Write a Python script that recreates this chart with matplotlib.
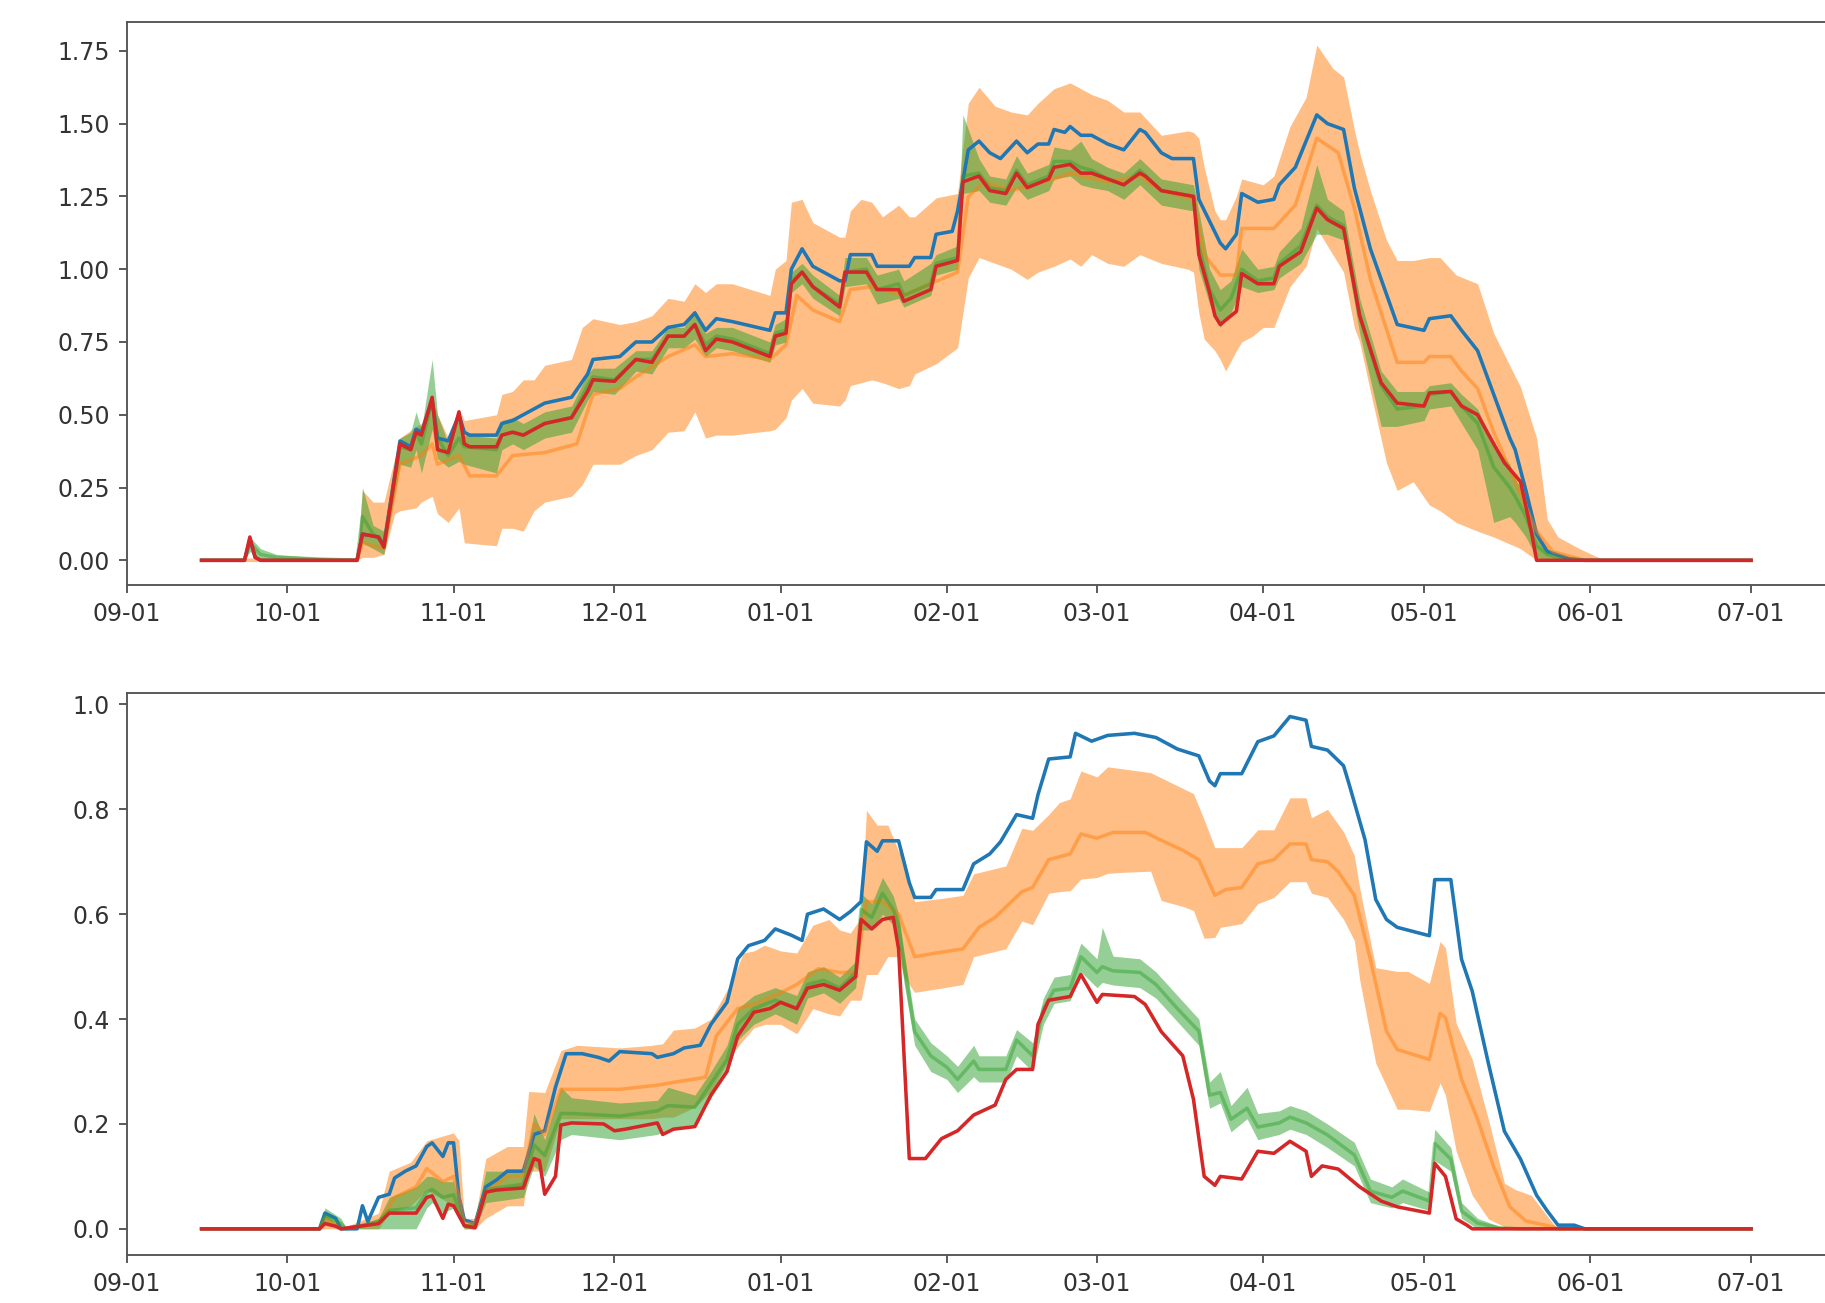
import numpy as np
import matplotlib
matplotlib.use('Agg')
import matplotlib.pyplot as plt
import matplotlib.dates as mdates

# day offsets counted from 2018-09-01
START = np.datetime64('2018-09-01')

# ---------- upper panel ----------
top_blue = [(14, 0), (22, 0), (23, 0.07), (24, 0.01), (25, 0), (43, 0), (44, 0.09), (47, 0.08), (48, 0.05),
            (51, 0.41), (53, 0.39), (54, 0.45), (55, 0.44), (57, 0.55), (58, 0.42), (60, 0.41), (62, 0.50),
            (63, 0.44), (64, 0.43), (69, 0.43), (70, 0.47), (72, 0.48), (74, 0.50), (78, 0.54), (83, 0.56),
            (86, 0.64), (87, 0.69), (92, 0.70), (95, 0.75), (98, 0.75), (101, 0.80), (104, 0.81), (106, 0.85),
            (108, 0.79), (110, 0.83), (113, 0.82), (120, 0.79), (121, 0.85), (123, 0.85), (124, 1.00),
            (126, 1.07), (128, 1.01), (133, 0.96), (134, 0.96), (135, 1.05), (139, 1.05), (140, 1.01),
            (146, 1.01), (147, 1.04), (150, 1.04), (151, 1.12), (154, 1.13), (155, 1.20), (157, 1.41),
            (159, 1.44), (161, 1.40), (163, 1.38), (166, 1.44), (168, 1.40), (170, 1.43), (172, 1.43),
            (173, 1.48), (175, 1.47), (176, 1.49), (178, 1.46), (180, 1.46), (183, 1.43), (186, 1.41),
            (189, 1.48), (190, 1.47), (193, 1.40), (195, 1.38), (199, 1.38), (200, 1.24), (204, 1.09),
            (205, 1.07), (207, 1.12), (208, 1.26), (211, 1.23), (214, 1.24), (215, 1.29), (218, 1.35),
            (222, 1.53), (224, 1.50), (227, 1.48), (229, 1.28), (232, 1.07), (237, 0.81), (242, 0.79),
            (243, 0.83), (247, 0.84), (249, 0.79), (252, 0.72), (255, 0.57), (258, 0.42), (259, 0.38),
            (261, 0.24), (263, 0.09), (265, 0.03), (269, 0.006), (272, 0), (303, 0)]

top_red = [(14, 0), (22, 0), (23, 0.08), (24, 0.01), (25, 0), (43, 0), (44, 0.09), (47, 0.08), (48, 0.045),
           (51, 0.40), (53, 0.38), (54, 0.44), (55, 0.43), (57, 0.56), (58, 0.38), (60, 0.37), (62, 0.51),
           (63, 0.40), (64, 0.39), (69, 0.39), (70, 0.43), (72, 0.44), (74, 0.43), (78, 0.47), (83, 0.49),
           (86, 0.58), (87, 0.62), (91, 0.615), (95, 0.69), (98, 0.68), (101, 0.77), (104, 0.77), (106, 0.81),
           (108, 0.72), (110, 0.76), (113, 0.75), (120, 0.70), (121, 0.77), (123, 0.78), (124, 0.95),
           (126, 0.99), (128, 0.94), (133, 0.87), (134, 0.99), (138, 0.99), (140, 0.93), (144, 0.93),
           (145, 0.89), (150, 0.93), (151, 1.01), (155, 1.03), (156, 1.30), (159, 1.32), (161, 1.27),
           (164, 1.26), (166, 1.33), (168, 1.28), (172, 1.31), (173, 1.35), (176, 1.36), (178, 1.33),
           (180, 1.33), (183, 1.31), (186, 1.29), (189, 1.33), (190, 1.32), (193, 1.27), (199, 1.25),
           (200, 1.05), (202, 0.92), (203, 0.84), (204, 0.81), (207, 0.855), (208, 0.985), (211, 0.95),
           (214, 0.95), (215, 1.01), (219, 1.06), (222, 1.21), (224, 1.17), (227, 1.14), (230, 0.84),
           (234, 0.61), (237, 0.54), (242, 0.53), (243, 0.575), (247, 0.58), (249, 0.53), (252, 0.50),
           (255, 0.40), (257, 0.335), (260, 0.27), (262, 0.10), (263, 0), (303, 0)]

top_orange = [(14, 0), (43, 0), (44, 0.06), (48, 0.04), (51, 0.33), (55, 0.36), (57, 0.40), (58, 0.33),
              (62, 0.36), (64, 0.29), (69, 0.29), (72, 0.36), (78, 0.37), (84, 0.40), (87, 0.57), (92, 0.59),
              (95, 0.63), (101, 0.70), (106, 0.74), (108, 0.70), (113, 0.71), (120, 0.69), (123, 0.74),
              (125, 0.91), (128, 0.86), (133, 0.82), (135, 0.93), (139, 0.94), (145, 0.91), (150, 0.95),
              (155, 0.99), (157, 1.25), (160, 1.30), (165, 1.27), (173, 1.31), (176, 1.33), (183, 1.30),
              (189, 1.32), (193, 1.27), (199, 1.24), (201, 1.05), (204, 0.98), (207, 0.98), (208, 1.14),
              (214, 1.14), (218, 1.22), (222, 1.45), (226, 1.40), (229, 1.21), (232, 0.965), (237, 0.68),
              (242, 0.68), (243, 0.70), (247, 0.70), (249, 0.65), (252, 0.59), (255, 0.44), (259, 0.27),
              (263, 0.10), (266, 0.03), (272, 0), (303, 0)]

# (day, lower, upper)
top_orange_band = [(14, 0, 0), (43, 0, 0), (44, 0.01, 0.24), (46, 0.01, 0.20), (48, 0.02, 0.20),
                   (50, 0.16, 0.35), (51, 0.17, 0.42), (54, 0.18, 0.46), (55, 0.20, 0.47), (57, 0.22, 0.56),
                   (58, 0.16, 0.50), (60, 0.13, 0.42), (62, 0.18, 0.52), (63, 0.06, 0.48), (69, 0.05, 0.50),
                   (70, 0.11, 0.57), (72, 0.11, 0.58), (74, 0.10, 0.62), (76, 0.17, 0.62), (78, 0.20, 0.67),
                   (83, 0.22, 0.69), (85, 0.26, 0.80), (87, 0.33, 0.83), (92, 0.33, 0.81), (95, 0.36, 0.82),
                   (98, 0.38, 0.84), (101, 0.44, 0.90), (104, 0.445, 0.89), (106, 0.51, 0.95),
                   (108, 0.42, 0.92), (110, 0.43, 0.95), (113, 0.43, 0.95), (120, 0.445, 0.91),
                   (121, 0.45, 1.00), (123, 0.49, 1.03), (124, 0.55, 1.23), (126, 0.59, 1.24),
                   (128, 0.54, 1.16), (133, 0.53, 1.11), (134, 0.55, 1.11), (135, 0.60, 1.20),
                   (137, 0.61, 1.24), (139, 0.62, 1.23), (141, 0.61, 1.18), (144, 0.59, 1.22),
                   (146, 0.60, 1.18), (147, 0.64, 1.18), (151, 0.675, 1.245), (155, 0.73, 1.26),
                   (157, 0.97, 1.57), (159, 1.04, 1.625), (162, 1.02, 1.56), (165, 1.00, 1.54),
                   (168, 0.965, 1.53), (170, 0.99, 1.57), (173, 1.01, 1.62), (176, 1.035, 1.64),
                   (178, 1.01, 1.62), (180, 1.05, 1.60), (183, 1.02, 1.58), (186, 1.01, 1.54),
                   (189, 1.05, 1.54), (193, 1.02, 1.46), (198, 1.00, 1.475), (199, 0.99, 1.47),
                   (200, 0.85, 1.45), (201, 0.76, 1.35), (203, 0.72, 1.20), (204, 0.69, 1.17),
                   (205, 0.65, 1.17), (207, 0.72, 1.25), (208, 0.75, 1.31), (210, 0.77, 1.30),
                   (212, 0.80, 1.29), (214, 0.80, 1.32), (217, 0.94, 1.49), (220, 1.01, 1.59),
                   (222, 1.14, 1.77), (225, 1.05, 1.69), (227, 0.99, 1.66), (229, 0.80, 1.48),
                   (230, 0.75, 1.40), (232, 0.58, 1.27), (235, 0.335, 1.10), (237, 0.24, 1.03),
                   (240, 0.27, 1.03), (243, 0.19, 1.04), (245, 0.17, 1.04), (248, 0.13, 0.98),
                   (252, 0.10, 0.95), (255, 0.08, 0.78), (260, 0.04, 0.595), (263, 0, 0.42),
                   (265, 0, 0.14), (267, 0, 0.08), (271, 0, 0.04), (275, 0, 0.006), (276, 0, 0), (303, 0, 0)]

# (day, lower, mean, upper)
top_green = [(14, 0, 0, 0), (22, 0, 0, 0), (23, 0.03, 0.06, 0.08), (25, 0, 0.02, 0.04), (28, 0, 0.01, 0.02),
             (43, 0, 0, 0), (44, 0.06, 0.15, 0.25), (46, 0.04, 0.09, 0.12), (48, 0.02, 0.06, 0.10),
             (51, 0.33, 0.39, 0.42), (53, 0.32, 0.38, 0.44), (54, 0.38, 0.44, 0.51), (55, 0.30, 0.40, 0.45),
             (57, 0.45, 0.55, 0.69), (58, 0.35, 0.42, 0.50), (60, 0.32, 0.36, 0.40), (62, 0.34, 0.42, 0.50),
             (63, 0.33, 0.39, 0.43), (69, 0.30, 0.38, 0.42), (70, 0.38, 0.43, 0.48), (72, 0.40, 0.44, 0.49),
             (74, 0.38, 0.43, 0.47), (78, 0.42, 0.47, 0.51), (83, 0.44, 0.49, 0.53), (86, 0.55, 0.60, 0.64),
             (87, 0.58, 0.63, 0.66), (91, 0.57, 0.62, 0.66), (95, 0.65, 0.69, 0.72), (98, 0.64, 0.69, 0.72),
             (101, 0.73, 0.77, 0.80), (104, 0.73, 0.77, 0.80), (106, 0.76, 0.81, 0.86),
             (108, 0.70, 0.74, 0.78), (110, 0.73, 0.77, 0.80), (113, 0.72, 0.76, 0.80),
             (120, 0.68, 0.71, 0.75), (121, 0.74, 0.78, 0.81), (123, 0.75, 0.79, 0.83),
             (124, 0.92, 0.96, 0.99), (126, 0.95, 0.99, 1.02), (128, 0.90, 0.94, 0.98),
             (133, 0.84, 0.88, 0.91), (134, 0.94, 0.99, 1.04), (138, 0.95, 1.00, 1.04),
             (140, 0.88, 0.93, 0.98), (144, 0.90, 0.95, 1.00), (145, 0.87, 0.91, 0.96),
             (150, 0.91, 0.95, 1.02), (151, 0.98, 1.02, 1.05), (155, 1.00, 1.04, 1.08),
             (156, 1.26, 1.32, 1.53), (159, 1.27, 1.33, 1.38), (161, 1.23, 1.28, 1.32),
             (164, 1.22, 1.27, 1.31), (166, 1.28, 1.34, 1.39), (168, 1.24, 1.29, 1.33),
             (172, 1.27, 1.32, 1.36), (173, 1.31, 1.37, 1.42), (176, 1.32, 1.37, 1.41),
             (178, 1.29, 1.35, 1.44), (180, 1.28, 1.34, 1.38), (183, 1.27, 1.31, 1.35),
             (186, 1.24, 1.29, 1.33), (189, 1.29, 1.34, 1.38), (193, 1.22, 1.27, 1.31),
             (199, 1.20, 1.25, 1.29), (200, 1.00, 1.08, 1.20), (202, 0.88, 0.93, 1.00),
             (204, 0.80, 0.86, 0.93), (206, 0.85, 0.90, 0.96), (208, 0.94, 1.00, 1.07),
             (211, 0.92, 0.96, 1.00), (214, 0.93, 0.97, 1.01), (215, 0.97, 1.02, 1.06),
             (219, 1.02, 1.08, 1.14), (222, 1.12, 1.22, 1.36), (224, 1.12, 1.18, 1.24),
             (227, 1.10, 1.15, 1.20), (230, 0.78, 0.84, 0.90), (234, 0.46, 0.60, 0.65),
             (237, 0.46, 0.52, 0.58), (242, 0.48, 0.53, 0.58), (243, 0.52, 0.57, 0.60),
             (247, 0.53, 0.58, 0.61), (249, 0.47, 0.53, 0.57), (252, 0.38, 0.47, 0.52),
             (255, 0.13, 0.32, 0.40), (258, 0.15, 0.25, 0.33), (259, 0.13, 0.22, 0.28),
             (261, 0.08, 0.15, 0.22), (263, 0.01, 0.05, 0.10), (265, 0, 0.02, 0.04),
             (268, 0, 0.005, 0.01), (272, 0, 0, 0), (303, 0, 0, 0)]

# ---------- lower panel ----------
bot_blue = [(14, 0), (36, 0), (37, 0.03), (39, 0.02), (40, 0), (43, 0), (44, 0.044), (45, 0.014), (47, 0.06),
            (49, 0.066), (50, 0.097), (52, 0.11), (54, 0.12), (56, 0.157), (57, 0.164), (59, 0.138),
            (60, 0.164), (61, 0.164), (62, 0.06), (63, 0.017), (65, 0.01), (67, 0.08), (69, 0.093),
            (71, 0.11), (74, 0.11), (76, 0.18), (78, 0.187), (80, 0.27), (82, 0.334), (85, 0.334),
            (88, 0.327), (90, 0.32), (92, 0.338), (98, 0.334), (99, 0.327), (102, 0.334), (104, 0.345),
            (107, 0.35), (109, 0.39), (112, 0.432), (114, 0.515), (116, 0.54), (119, 0.55), (121, 0.572),
            (124, 0.56), (126, 0.55), (127, 0.60), (130, 0.61), (133, 0.59), (135, 0.605), (137, 0.624),
            (138, 0.738), (140, 0.72), (141, 0.74), (144, 0.74), (146, 0.66), (147, 0.632), (150, 0.632),
            (151, 0.647), (156, 0.647), (158, 0.696), (161, 0.715), (163, 0.738), (166, 0.79), (169, 0.783),
            (170, 0.828), (172, 0.896), (176, 0.90), (177, 0.945), (180, 0.93), (183, 0.941), (188, 0.945),
            (192, 0.937), (196, 0.915), (200, 0.902), (202, 0.854), (203, 0.845), (204, 0.868), (208, 0.868),
            (211, 0.929), (214, 0.94), (217, 0.977), (220, 0.97), (221, 0.92), (224, 0.913), (227, 0.883),
            (228, 0.849), (231, 0.742), (233, 0.628), (235, 0.59), (237, 0.575), (243, 0.559), (244, 0.666),
            (247, 0.666), (249, 0.514), (251, 0.453), (254, 0.316), (257, 0.186), (260, 0.133),
            (263, 0.064), (265, 0.034), (267, 0.007), (270, 0.007), (272, 0), (303, 0)]

bot_red = [(14, 0), (36, 0), (37, 0.01), (39, 0.005), (40, 0), (47, 0.01), (49, 0.03), (54, 0.03), (56, 0.06),
           (57, 0.063), (59, 0.02), (60, 0.047), (61, 0.044), (63, 0.006), (65, 0.002), (67, 0.07),
           (69, 0.074), (74, 0.078), (76, 0.134), (77, 0.13), (78, 0.066), (80, 0.10), (81, 0.198),
           (83, 0.202), (89, 0.20), (91, 0.187), (93, 0.19), (99, 0.202), (100, 0.18), (102, 0.19),
           (106, 0.195), (109, 0.255), (112, 0.30), (114, 0.368), (117, 0.413), (120, 0.42), (122, 0.432),
           (125, 0.42), (127, 0.459), (130, 0.466), (133, 0.455), (136, 0.481), (137, 0.59), (139, 0.572),
           (141, 0.59), (143, 0.594), (144, 0.534), (146, 0.134), (149, 0.134), (152, 0.172), (155, 0.187),
           (158, 0.217), (162, 0.236), (164, 0.285), (166, 0.304), (169, 0.304), (170, 0.39), (172, 0.436),
           (176, 0.443), (178, 0.485), (181, 0.432), (182, 0.447), (188, 0.443), (190, 0.428), (193, 0.376),
           (197, 0.33), (199, 0.247), (201, 0.10), (203, 0.083), (204, 0.10), (208, 0.095), (211, 0.148),
           (214, 0.144), (217, 0.167), (220, 0.148), (221, 0.10), (223, 0.12), (226, 0.114), (230, 0.08),
           (234, 0.053), (237, 0.042), (243, 0.03), (244, 0.125), (246, 0.10), (248, 0.019), (250, 0.007),
           (251, 0), (303, 0)]

bot_orange = [(14, 0), (36, 0), (37, 0.02), (40, 0), (47, 0.01), (50, 0.06), (54, 0.08), (56, 0.115),
              (59, 0.09), (61, 0.10), (62, 0.06), (63, 0.01), (65, 0.01), (67, 0.07), (71, 0.10), (74, 0.10),
              (76, 0.20), (78, 0.18), (81, 0.266), (92, 0.266), (99, 0.274), (103, 0.281), (108, 0.289),
              (110, 0.368), (114, 0.42), (117, 0.428), (122, 0.45), (125, 0.466), (129, 0.496),
              (133, 0.489), (136, 0.489), (138, 0.624), (141, 0.624), (144, 0.60), (147, 0.519),
              (151, 0.526), (156, 0.534), (159, 0.575), (162, 0.594), (167, 0.643), (169, 0.651),
              (172, 0.704), (176, 0.715), (178, 0.753), (181, 0.745), (184, 0.756), (190, 0.756),
              (193, 0.741), (197, 0.722), (200, 0.704), (203, 0.636), (205, 0.647), (208, 0.651),
              (211, 0.696), (214, 0.704), (217, 0.734), (220, 0.734), (221, 0.704), (224, 0.70),
              (226, 0.681), (229, 0.636), (232, 0.514), (235, 0.377), (237, 0.342), (243, 0.323),
              (245, 0.411), (246, 0.403), (249, 0.285), (252, 0.209), (255, 0.118), (258, 0.042),
              (261, 0.015), (266, 0.004), (267, 0), (303, 0)]

bot_orange_band = [(14, 0, 0), (36, 0, 0), (37, 0, 0.03), (40, 0, 0), (47, 0, 0.03), (49, 0.03, 0.11),
                   (53, 0.044, 0.127), (56, 0.074, 0.168), (61, 0.044, 0.183), (62, 0.02, 0.168),
                   (63, 0, 0.02), (65, 0, 0.02), (67, 0.02, 0.134), (71, 0.044, 0.157), (74, 0.044, 0.157),
                   (75, 0.11, 0.262), (78, 0.11, 0.26), (81, 0.21, 0.34), (84, 0.21, 0.35), (92, 0.21, 0.345),
                   (98, 0.21, 0.35), (100, 0.213, 0.353), (102, 0.213, 0.379), (106, 0.232, 0.383),
                   (109, 0.262, 0.40), (113, 0.334, 0.474), (115, 0.36, 0.526), (117, 0.383, 0.53),
                   (119, 0.39, 0.541), (122, 0.39, 0.53), (125, 0.372, 0.526), (128, 0.42, 0.579),
                   (131, 0.41, 0.59), (133, 0.406, 0.57), (135, 0.436, 0.564), (137, 0.436, 0.594),
                   (138, 0.485, 0.798), (140, 0.485, 0.77), (142, 0.519, 0.77), (144, 0.519, 0.72),
                   (145, 0.48, 0.707), (147, 0.451, 0.624), (152, 0.459, 0.63), (156, 0.466, 0.636),
                   (158, 0.519, 0.677), (164, 0.534, 0.692), (167, 0.587, 0.764), (169, 0.58, 0.76),
                   (172, 0.64, 0.79), (174, 0.643, 0.813), (176, 0.645, 0.82), (178, 0.667, 0.873),
                   (181, 0.67, 0.862), (183, 0.678, 0.881), (186, 0.68, 0.877), (191, 0.682, 0.87),
                   (193, 0.626, 0.86), (197, 0.615, 0.84), (199, 0.607, 0.83), (201, 0.554, 0.78),
                   (203, 0.556, 0.727), (204, 0.575, 0.727), (208, 0.582, 0.727), (211, 0.62, 0.761),
                   (214, 0.632, 0.761), (217, 0.662, 0.822), (220, 0.662, 0.822), (221, 0.64, 0.784),
                   (224, 0.632, 0.80), (227, 0.59, 0.757), (229, 0.55, 0.712), (230, 0.475, 0.65),
                   (233, 0.316, 0.498), (237, 0.228, 0.491), (239, 0.228, 0.491), (243, 0.224, 0.468),
                   (245, 0.278, 0.548), (246, 0.255, 0.536), (248, 0.148, 0.392), (251, 0.064, 0.323),
                   (254, 0.019, 0.209), (257, 0.004, 0.087), (259, 0, 0.075), (262, 0, 0.064),
                   (266, 0, 0.011), (267, 0, 0), (303, 0, 0)]

bot_green = [(14, 0, 0, 0), (36, 0, 0, 0), (37, 0.01, 0.025, 0.04), (40, 0, 0.01, 0.02), (41, 0, 0, 0),
             (47, 0, 0.014, 0.02), (49, 0, 0.035, 0.06), (54, 0, 0.04, 0.08), (56, 0.04, 0.07, 0.10),
             (57, 0.05, 0.075, 0.10), (59, 0.03, 0.06, 0.09), (61, 0.04, 0.065, 0.09), (63, 0, 0.006, 0.01),
             (65, 0, 0.005, 0.01), (67, 0.05, 0.075, 0.11), (74, 0.06, 0.085, 0.11), (76, 0.12, 0.16, 0.22),
             (78, 0.10, 0.14, 0.17), (81, 0.17, 0.22, 0.27), (83, 0.18, 0.22, 0.25), (92, 0.17, 0.215, 0.24),
             (99, 0.18, 0.225, 0.245), (101, 0.19, 0.235, 0.27), (106, 0.20, 0.232, 0.255),
             (109, 0.25, 0.277, 0.30), (112, 0.30, 0.323, 0.35), (114, 0.36, 0.39, 0.42),
             (117, 0.39, 0.42, 0.445), (121, 0.41, 0.436, 0.46), (125, 0.39, 0.42, 0.445),
             (127, 0.44, 0.466, 0.49), (130, 0.45, 0.474, 0.50), (133, 0.43, 0.459, 0.48),
             (136, 0.46, 0.489, 0.51), (137, 0.57, 0.609, 0.64), (139, 0.57, 0.594, 0.62),
             (141, 0.60, 0.64, 0.67), (143, 0.58, 0.609, 0.635), (144, 0.55, 0.579, 0.60),
             (145, 0.47, 0.504, 0.53), (147, 0.35, 0.376, 0.40), (150, 0.30, 0.33, 0.355),
             (153, 0.285, 0.308, 0.33), (155, 0.26, 0.285, 0.31), (158, 0.29, 0.32, 0.35),
             (159, 0.28, 0.304, 0.33), (164, 0.28, 0.304, 0.33), (166, 0.33, 0.36, 0.38),
             (169, 0.30, 0.33, 0.355), (171, 0.39, 0.42, 0.44), (173, 0.43, 0.455, 0.48),
             (176, 0.435, 0.459, 0.485), (178, 0.49, 0.519, 0.545), (181, 0.46, 0.489, 0.515),
             (182, 0.47, 0.50, 0.575), (184, 0.465, 0.492, 0.52), (189, 0.46, 0.489, 0.515),
             (192, 0.44, 0.466, 0.49), (196, 0.395, 0.42, 0.445), (200, 0.35, 0.377, 0.40),
             (202, 0.23, 0.255, 0.28), (204, 0.24, 0.26, 0.30), (206, 0.185, 0.209, 0.235),
             (209, 0.21, 0.23, 0.27), (211, 0.17, 0.194, 0.22), (215, 0.18, 0.202, 0.225),
             (217, 0.19, 0.213, 0.235), (220, 0.18, 0.202, 0.225), (224, 0.155, 0.179, 0.20),
             (229, 0.12, 0.141, 0.165), (232, 0.05, 0.072, 0.095), (236, 0.04, 0.06, 0.08),
             (238, 0.05, 0.072, 0.095), (243, 0.035, 0.053, 0.07), (244, 0.13, 0.163, 0.19),
             (247, 0.11, 0.133, 0.155), (249, 0.02, 0.034, 0.05), (252, 0, 0.011, 0.02),
             (256, 0, 0.002, 0.005), (260, 0, 0, 0), (303, 0, 0, 0)]


def to_dates(days):
    return START + np.array(days, dtype='timedelta64[D]')


def draw_panel(ax, blue, orange, orange_band, green, red, yticks):
    d, lo, hi = zip(*orange_band)
    ax.fill_between(to_dates(d), lo, hi, color='C1', alpha=0.5, linewidth=0)
    d, lo, mid, hi = zip(*green)
    ax.fill_between(to_dates(d), lo, hi, color='C2', alpha=0.5, linewidth=0)
    green_days, green_mid = d, mid

    d, v = zip(*blue)
    ax.plot(to_dates(d), v, color='C0', lw=1.5)
    d, v = zip(*orange)
    ax.plot(to_dates(d), v, color='C1', lw=1.5, alpha=0.5)
    ax.plot(to_dates(green_days), green_mid, color='C2', lw=1.5, alpha=0.45)
    d, v = zip(*red)
    ax.plot(to_dates(d), v, color='C3', lw=1.5)

    ax.set_xlim(np.datetime64('2018-09-01'), np.datetime64('2019-07-16'))
    ax.xaxis.set_major_locator(mdates.MonthLocator())
    ax.xaxis.set_major_formatter(mdates.DateFormatter('%m-%d'))
    ax.set_yticks(yticks)
    for s in ax.spines.values():
        s.set_color('#555555')
    ax.tick_params(colors='#555555', labelcolor='#333333')


fig = plt.figure(figsize=(1826 / 170, 1303 / 170), dpi=170)
ax1 = fig.add_axes([0.0693, 0.551, 0.9337, 0.4323])
ax2 = fig.add_axes([0.0693, 0.0368, 0.9337, 0.4314])

draw_panel(ax1, top_blue, top_orange, top_orange_band, top_green, top_red,
           [0, 0.25, 0.5, 0.75, 1.0, 1.25, 1.5, 1.75])
ax1.set_ylim(-0.085, 1.85)
ax1.yaxis.set_major_formatter(matplotlib.ticker.FormatStrFormatter('%.2f'))

draw_panel(ax2, bot_blue, bot_orange, bot_orange_band, bot_green, bot_red,
           [0, 0.2, 0.4, 0.6, 0.8, 1.0])
ax2.set_ylim(-0.05, 1.022)
ax2.yaxis.set_major_formatter(matplotlib.ticker.FormatStrFormatter('%.1f'))

fig.savefig('out.png', dpi=170)
